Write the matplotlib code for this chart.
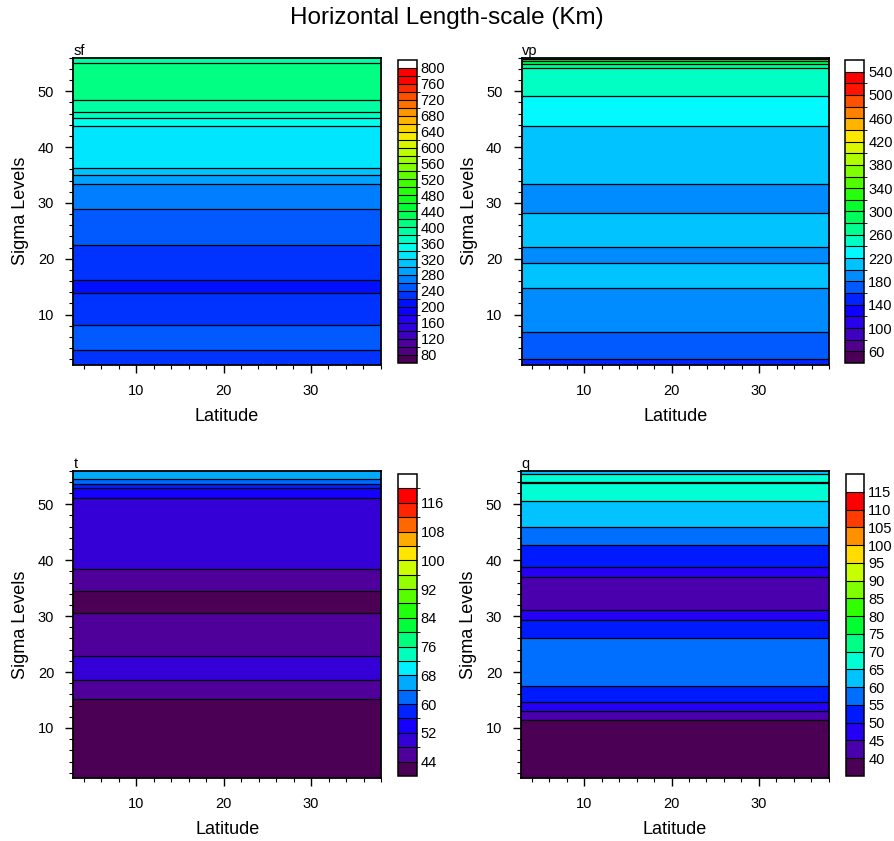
import numpy as np
import matplotlib
matplotlib.use("Agg")
import matplotlib.pyplot as plt
import matplotlib.colors as mcolors
from matplotlib.ticker import MultipleLocator

plt.rcParams['font.family'] = ['Liberation Sans', 'DejaVu Sans']

# ---------------- data ----------------
sigma = np.arange(1, 57)
lat = [2.8, 38.0]

sf = [228, 232, 236, 242, 245, 246, 244, 241, 235, 230,
      227, 225, 223, 219.5, 216, 219, 225, 229, 232, 235,
      237, 239, 241, 244, 248, 252, 255, 259, 260.2, 265,
      270, 275, 278, 284, 300.5, 318, 325, 328, 330, 331,
      332, 333, 334, 341, 356, 376, 390, 397, 403, 408,
      410, 411, 408, 405, 399.9, 392]

vp = [158, 159.7, 165, 170, 174, 177.5, 180.5, 184, 188, 191,
      194, 196, 198, 198.5, 200.6, 203, 204, 203, 201, 197,
      197, 199.2, 205, 207, 207, 206, 204, 201, 196, 194,
      194, 196, 199.5, 201, 204, 207, 209, 211, 213, 215,
      216, 218, 219.2, 220.25, 225, 229, 233, 236, 239.5, 243,
      248, 253, 256, 258, 285, 330]

t = [38.0, 38.6, 39.2, 39.7, 40.2, 40.6, 41.0, 41.4, 41.8, 42.1,
     42.5, 42.8, 43.1, 43.4, 43.8, 44.8, 46.2, 47.4, 48.6, 49.6,
     49.5, 48.9, 47.8, 47.0, 46.4, 45.9, 45.5, 45.0, 44.6, 44.3,
     43.8, 43.3, 43.2, 43.7, 44.4, 45.5, 46.8, 47.6, 48.6, 49.2,
     49.6, 49.9, 50.1, 50.3, 50.5, 50.7, 50.9, 51.1, 51.4, 51.7,
     51.95, 53.3, 56.2, 61.6, 65.8, 67.5]

q = [34.0, 34.6, 35.2, 35.8, 36.4, 37.0, 37.5, 38.0, 38.5, 38.9,
     39.3, 40.7, 45.1, 48.0, 51.0, 52.8, 54.3, 55.9, 57.0, 57.6,
     57.9, 57.8, 57.4, 56.8, 56.0, 55.05, 53.5, 51.5, 50.4, 49.0,
     45.3, 43.5, 42.5, 42.2, 42.6, 43.8, 45.1, 48.3, 50.4, 52.2,
     53.5, 54.6, 55.2, 57.0, 58.9, 60.2, 61.5, 62.5, 63.4, 64.3,
     65.6, 67.2, 68.8, 70.2, 66.5, 62.0]

names = ['sf', 'vp', 't', 'q']
fields = [sf, vp, t, q]
level_specs = [(80, 800, 20), (60, 540, 20), (44, 120, 4), (40, 115, 5)]
label_steps = [2, 2, 2, 1]

# ---------------- colormap (rainbow + white) ----------------
anchors = [(0.000, '#4b0055'), (0.028, '#500080'), (0.056, '#5000a0'),
           (0.083, '#4000c0'), (0.111, '#3000e0'), (0.145, '#2000ff'),
           (0.180, '#0000ff'), (0.380, '#00ffff'), (0.400, '#00ffd4'),
           (0.472, '#00ff80'), (0.533, '#00ff30'), (0.600, '#30ff00'),
           (0.667, '#80ff00'), (0.733, '#c8ff00'), (0.790, '#ffe800'),
           (0.860, '#ff9800'), (0.930, '#ff4000'), (0.975, '#ff0000'),
           (1.000, '#ff0000')]
rainbow = mcolors.LinearSegmentedColormap.from_list('ncl_rainbow', anchors)

W, H = 894, 841
fig = plt.figure(figsize=(W / 100, H / 100), dpi=100)


def px_axes(x0, y0, x1, y1):
    return fig.add_axes([x0 / W, 1 - y1 / H, (x1 - x0) / W, (y1 - y0) / H])


axes_px = [(73.3, 57.7, 380.7, 364.8), (521.5, 57.7, 829.0, 364.8),
           (73.3, 470.7, 381.0, 778.3), (521.3, 470.7, 828.7, 778.3)]
cbar_px = [(397.5, 60.0, 416.5, 362.5), (845.0, 60.0, 864.0, 363.0),
           (398.0, 474.0, 416.5, 776.0), (845.5, 474.0, 864.0, 776.0)]

for name, field, spec, lstep, apx, cpx in zip(names, fields, level_specs,
                                               label_steps, axes_px, cbar_px):
    lo, hi, st = spec
    levels = np.arange(lo, hi + st / 2, st)
    nbox = len(levels) + 1
    cols = [rainbow(i / (nbox - 2)) for i in range(nbox - 1)] + ['white']
    cmap, norm = mcolors.from_levels_and_colors(levels, cols, extend='both')

    ax = px_axes(*apx)
    Z = np.tile(np.asarray(field, dtype=float)[:, None], (1, len(lat)))
    cs = ax.contourf(lat, sigma, Z, levels=levels, cmap=cmap, norm=norm,
                     extend='both')
    ax.contour(lat, sigma, Z, levels=levels, colors='k', linewidths=0.9)
    ax.set_xlim(2.8, 38.0)
    ax.set_ylim(1, 56)
    ax.xaxis.set_major_locator(MultipleLocator(10))
    ax.xaxis.set_minor_locator(MultipleLocator(2))
    ax.yaxis.set_major_locator(MultipleLocator(10))
    ax.yaxis.set_minor_locator(MultipleLocator(2))
    ax.tick_params(which='major', direction='out', length=5.8, width=1,
                   labelsize=10.5)
    ax.tick_params(axis='x', which='major', pad=8)
    ax.tick_params(axis='y', which='major', pad=8)
    ax.tick_params(which='minor', direction='out', length=3, width=0.8)
    for sp in ax.spines.values():
        sp.set_linewidth(1.3)
    ax.set_xlabel('Latitude', fontsize=13, labelpad=7)
    ax.set_ylabel('Sigma Levels', fontsize=13, labelpad=6)
    ax.set_title(name, loc='left', fontsize=10.5, pad=1.5)

    cax = px_axes(*cpx)
    cb = fig.colorbar(cs, cax=cax, extend='both', extendrect=True,
                      extendfrac='auto', drawedges=True)
    cb.set_ticks(levels[::lstep])
    cb.set_ticklabels([f'{v:g}' for v in levels[::lstep]])
    cb.ax.tick_params(length=0, labelsize=10.5, pad=3)
    cb.outline.set_linewidth(1.1)
    cb.dividers.set_linewidth(0.8)

fig.text(0.5, 1 - 18 / H, 'Horizontal Length-scale (Km)', ha='center',
         va='center', fontsize=17.5)

fig.savefig('out.png', dpi=100)
